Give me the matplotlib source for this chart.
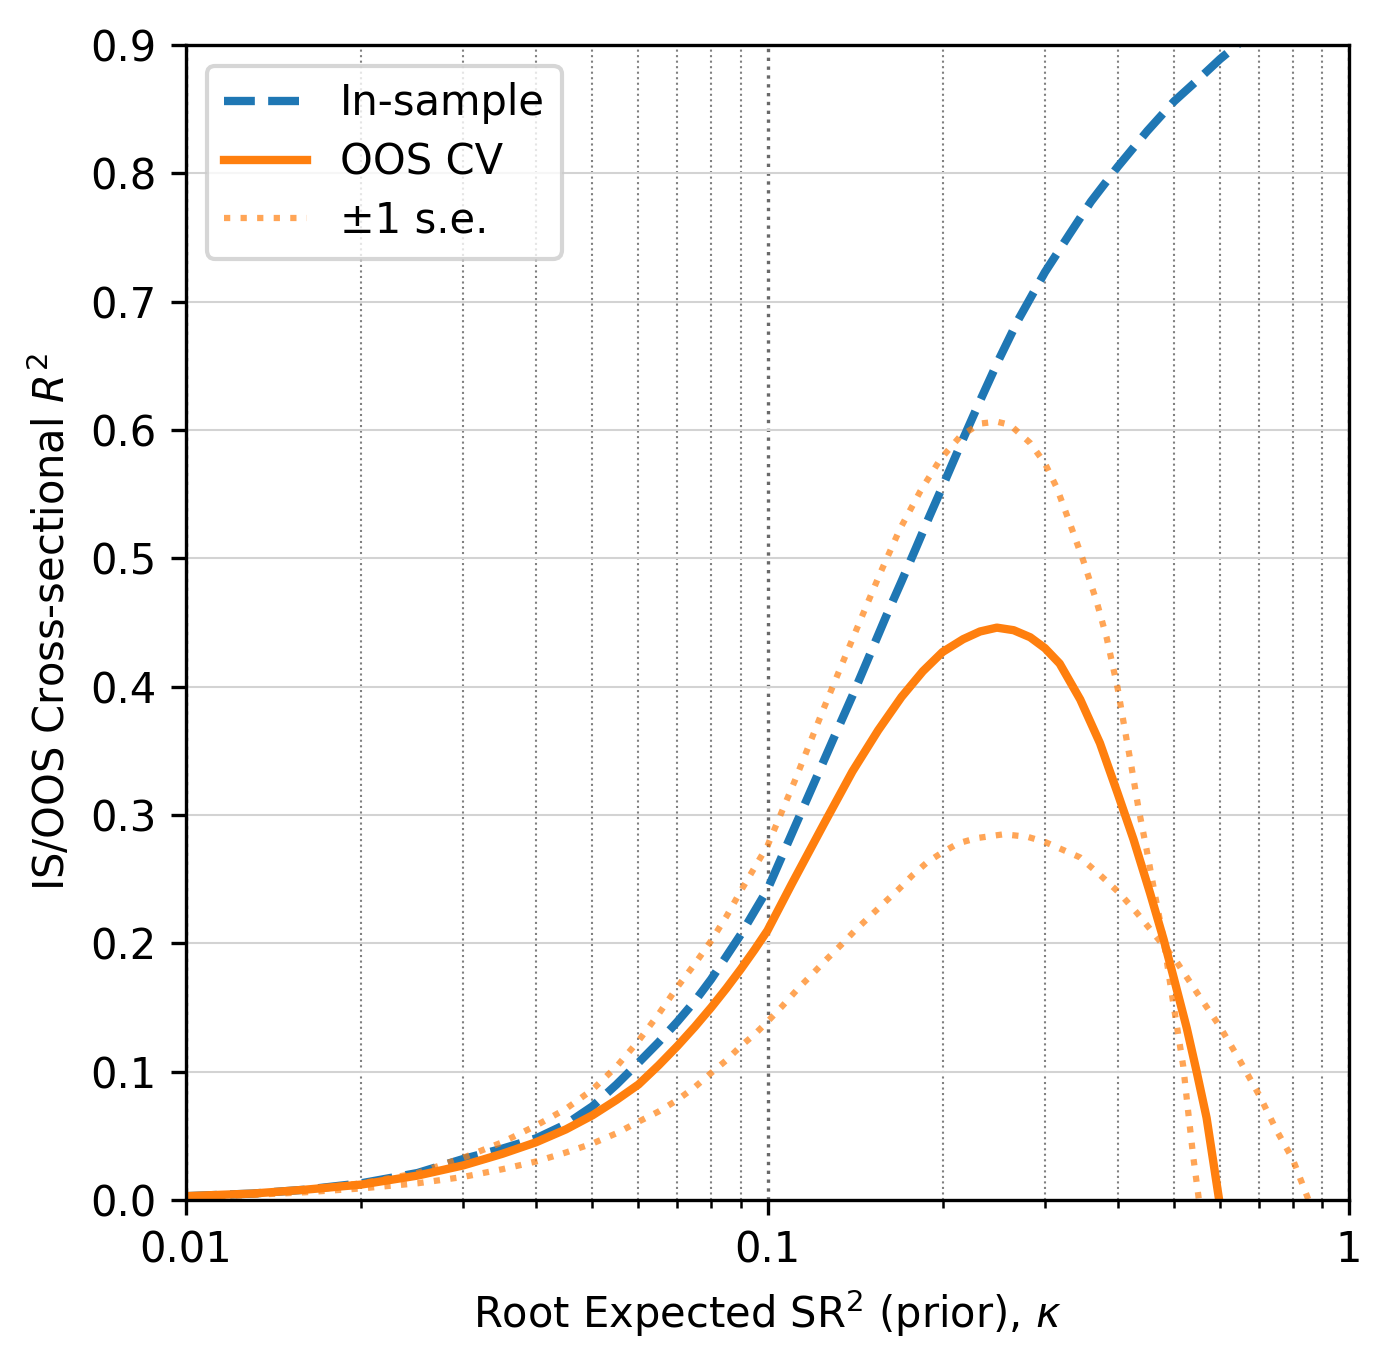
import matplotlib
matplotlib.use("Agg")
import matplotlib.pyplot as plt
from matplotlib.ticker import FixedLocator, FixedFormatter, LogLocator, NullFormatter


# values, one (kappa, R^2) list pair per curve
in_sample_k = [0.01, 0.013, 0.016, 0.02, 0.025, 0.03, 0.035, 0.04, 0.045, 0.05,
               0.055, 0.06, 0.065, 0.07, 0.075, 0.08, 0.085, 0.09, 0.095, 0.1,
               0.11, 0.12, 0.13, 0.14, 0.15, 0.16, 0.17, 0.18, 0.19, 0.2,
               0.215, 0.23, 0.25, 0.27, 0.3, 0.33, 0.36, 0.4, 0.45, 0.5,
               0.55, 0.6, 0.65]
in_sample = [0.003, 0.005, 0.008, 0.013, 0.021, 0.032, 0.040, 0.048, 0.059, 0.073,
             0.090, 0.107, 0.123, 0.139, 0.155, 0.172, 0.190, 0.207, 0.225, 0.242,
             0.285, 0.324, 0.360, 0.393, 0.425, 0.455, 0.482, 0.508, 0.533, 0.556,
             0.589, 0.619, 0.655, 0.686, 0.723, 0.752, 0.778, 0.805, 0.833, 0.856,
             0.873, 0.889, 0.902]

oos_cv_k = [0.01, 0.013, 0.016, 0.02, 0.025, 0.03, 0.035, 0.04, 0.045, 0.05,
            0.055, 0.06, 0.065, 0.07, 0.075, 0.08, 0.085, 0.09, 0.095, 0.1,
            0.11, 0.125, 0.14, 0.155, 0.17, 0.185, 0.2, 0.217, 0.232, 0.248,
            0.265, 0.283, 0.3, 0.318, 0.345, 0.373, 0.4, 0.426, 0.455, 0.48,
            0.5, 0.526, 0.547, 0.569, 0.598]
oos_cv = [0.003, 0.005, 0.008, 0.012, 0.019, 0.027, 0.036, 0.045, 0.055, 0.066,
          0.078, 0.090, 0.105, 0.120, 0.135, 0.150, 0.165, 0.180, 0.195, 0.210,
          0.246, 0.293, 0.334, 0.366, 0.392, 0.412, 0.427, 0.437, 0.443, 0.446,
          0.444, 0.4385, 0.430, 0.418, 0.390, 0.356, 0.317, 0.281, 0.239, 0.203,
          0.1725, 0.134, 0.100, 0.064, 0.0]

se_upper_k = [0.01, 0.013, 0.016, 0.02, 0.025, 0.03, 0.035, 0.04, 0.045, 0.05,
              0.055, 0.06, 0.065, 0.07, 0.075, 0.08, 0.085, 0.09, 0.095, 0.1,
              0.1115, 0.1244, 0.1333, 0.1442, 0.1561, 0.169, 0.183, 0.1981, 0.2144, 0.232,
              0.248, 0.2612, 0.2828, 0.3, 0.3144, 0.3313, 0.3493, 0.3683, 0.3831, 0.4,
              0.4118, 0.4228, 0.4342, 0.4487, 0.4637, 0.4795, 0.4921, 0.5052, 0.5188, 0.5292,
              0.5396, 0.552]
se_upper = [0.003, 0.005, 0.008, 0.013, 0.021, 0.033, 0.045, 0.058, 0.071, 0.086,
            0.104, 0.124, 0.145, 0.166, 0.184, 0.202, 0.221, 0.241, 0.259, 0.276,
            0.327, 0.381, 0.414, 0.451, 0.488, 0.523, 0.552, 0.577, 0.595, 0.605,
            0.6065, 0.604, 0.590, 0.574, 0.555, 0.527, 0.498, 0.466, 0.438, 0.399,
            0.366, 0.337, 0.306, 0.273, 0.238, 0.204, 0.170, 0.137, 0.104, 0.068,
            0.034, 0.0]

se_lower_k = [0.01, 0.013, 0.016, 0.02, 0.025, 0.03, 0.035, 0.04, 0.045, 0.05,
              0.055, 0.06, 0.065, 0.07, 0.075, 0.08, 0.085, 0.09, 0.095, 0.1,
              0.106, 0.113, 0.12, 0.126, 0.134, 0.1414, 0.15, 0.1582, 0.168, 0.1775,
              0.188, 0.2, 0.213, 0.229, 0.255, 0.28, 0.3, 0.3446, 0.3731, 0.4027,
              0.4313, 0.4619, 0.5039, 0.5506, 0.6, 0.6494, 0.7027, 0.7507, 0.8, 0.852]
se_lower = [0.002, 0.004, 0.006, 0.009, 0.013, 0.018, 0.024, 0.030, 0.037, 0.044,
            0.052, 0.061, 0.069, 0.078, 0.088, 0.099, 0.109, 0.120, 0.129, 0.139,
            0.151, 0.165, 0.177, 0.187, 0.199, 0.210, 0.221, 0.231, 0.242, 0.253,
            0.263, 0.271, 0.278, 0.282, 0.285, 0.283, 0.279, 0.267, 0.2533, 0.2393,
            0.224, 0.2074, 0.1865, 0.160, 0.135, 0.1085, 0.0807, 0.0542, 0.032, 0.0]

yticks = [0.0, 0.1, 0.2, 0.3, 0.4, 0.5, 0.6, 0.7, 0.8, 0.9]
xticks = [0.01, 0.1, 1]
xtick_labels = ["0.01", "0.1", "1"]


def main():
    plt.rcParams["font.family"] = ["DejaVu Sans"]
    plt.rcParams["font.size"] = 10

    fig = plt.figure(figsize=(1391 / 300, 1366 / 300), dpi=300)
    ax = fig.add_axes([186 / 1391, 1 - 1200 / 1366, (1349 - 186) / 1391, (1200 - 45) / 1366])

    ax.plot(in_sample_k, in_sample, ls="--", lw=2, color="#1f77b4", label="In-sample")
    ax.plot(oos_cv_k, oos_cv, ls="-", lw=2, color="#ff7f0e", label="OOS CV")
    ax.plot(se_upper_k, se_upper, ls=":", lw=1.5, color="#ff7f0e", alpha=0.7,
            label="\u00b11 s.e.")
    ax.plot(se_lower_k, se_lower, ls=":", lw=1.5, color="#ff7f0e", alpha=0.7)

    ax.set_xscale("log")
    ax.set_xlim(0.01, 1)
    ax.set_ylim(0, 0.9)
    ax.xaxis.set_major_locator(FixedLocator(xticks))
    ax.xaxis.set_major_formatter(FixedFormatter(xtick_labels))
    ax.xaxis.set_minor_locator(LogLocator(base=10, subs=range(2, 10)))
    ax.xaxis.set_minor_formatter(NullFormatter())
    ax.set_yticks(yticks)
    ax.set_yticklabels([f"{v:.1f}" for v in yticks])

    ax.grid(True, which="major", axis="y", color="lightgrey", lw=0.5)
    ax.grid(True, which="minor", axis="x", color="grey", ls=":", lw=0.5)
    ax.grid(True, which="major", axis="x", color="dimgrey", ls=":", lw=0.8)
    ax.set_axisbelow(True)

    ax.set_xlabel(r"Root Expected SR$^2$ (prior), $\kappa$")
    ax.set_ylabel(r"IS/OOS Cross-sectional $R^2$")
    ax.legend(loc="upper left", fontsize=10, labelspacing=0.4)

    fig.savefig("out.png", dpi=300)
    plt.close(fig)


if __name__ == "__main__":
    main()
